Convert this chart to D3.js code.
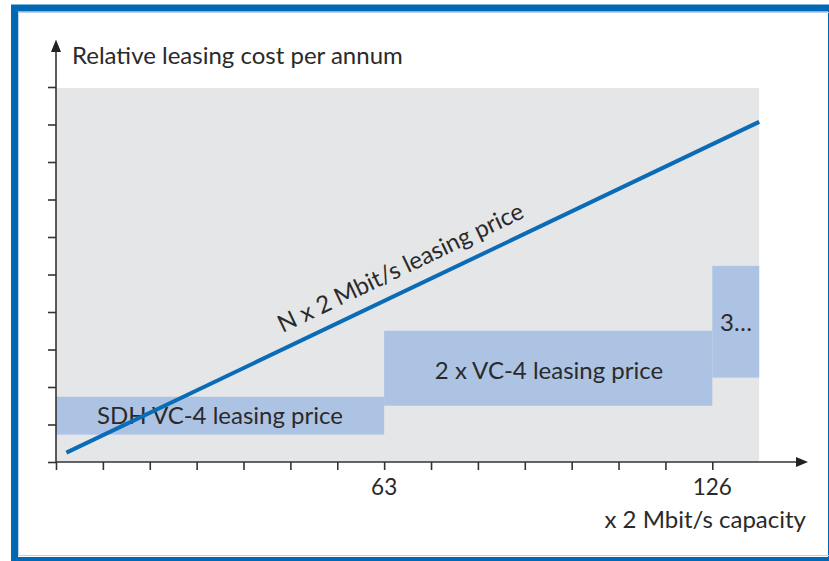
<!DOCTYPE html>
<html><head><meta charset="utf-8">
<script src="https://cdn.jsdelivr.net/npm/d3@7"></script>
<style>body{margin:0;background:#fff}svg{display:block}</style>
</head><body><svg id="c" width="829" height="561"></svg>
<script>
// ---- data ----
const xTicks = [0, 9, 18, 27, 36, 45, 54, 63, 72, 81, 90, 99, 108, 117, 126];
const xTickLabels = ["63", "126"];
const yTicks = [0, 1, 2, 3, 4, 5, 6, 7, 8, 9, 10];
const bandNames = ["SDH VC-4 leasing price", "2 x VC-4 leasing price", "3…"];
const bandStart = [0, 63, 126];
const bandEnd = [63, 126, 135];
const bandLow = [0.73, 1.50, 2.25];
const bandHigh = [1.74, 3.50, 5.23];
const lineX = [2, 135];
const lineY = [0.25, 9.07];
const lineLabel = "N x 2 Mbit/s leasing price";
const yTitle = "Relative leasing cost per annum";
const xTitle = "x 2 Mbit/s capacity";
const xMax = 135, yMax = 10;

// ---- drawing ----
const svg = d3.select("#c");
const FONT = "Lato, 'Open Sans', sans-serif";
const TXT = "#2a2a2a";
const FS = 24;
const x = d3.scaleLinear().domain([0, 126]).range([56, 712.3]);
const y = d3.scaleLinear().domain([0, 10]).range([462, 87]);

// frame
svg.append("rect").attr("x", 14.5).attr("y", 8).attr("width", 817).attr("height", 552.5)
  .attr("fill", "none").attr("stroke", "#0068b4").attr("stroke-width", 7);
svg.append("rect").attr("x", 18.5).attr("y", 12.5).attr("width", 820).attr("height", 543)
  .attr("fill", "none").attr("stroke", "#b9d3ee").attr("stroke-width", 1);

// gray plot area
svg.append("rect").attr("x", x(0)).attr("y", y(yMax) + 1)
  .attr("width", x(xMax) - x(0)).attr("height", y(0) - y(yMax) - 1)
  .attr("fill", "#e5e6e8");

// bands
const bands = bandNames.map((n, i) => ({n, s: bandStart[i], e: bandEnd[i], lo: bandLow[i], hi: bandHigh[i]}));
svg.selectAll("rect.band").data(bands).join("rect").attr("class", "band")
  .attr("x", d => x(d.s)).attr("width", d => x(d.e) - x(d.s))
  .attr("y", d => y(d.hi)).attr("height", d => y(d.lo) - y(d.hi))
  .attr("fill", "#adc3e4");

// band labels
const labelPos = [{cx: 220, b: 424}, {cx: 549, b: 379}, {cx: 736, b: 331}];
svg.selectAll("text.band").data(bands).join("text").attr("class", "band")
  .attr("x", (d, i) => labelPos[i].cx).attr("y", (d, i) => labelPos[i].b)
  .attr("text-anchor", "middle").attr("font-family", FONT).attr("font-size", FS)
  .attr("fill", TXT).text(d => d.n);

// line
const pts = lineX.map((v, i) => [x(v), y(lineY[i])]);
svg.append("path").attr("d", d3.line()(pts)).attr("fill", "none")
  .attr("stroke", "#0a6bb6").attr("stroke-width", 4);
const ang = Math.atan2(pts[1][1] - pts[0][1], pts[1][0] - pts[0][0]) * 180 / Math.PI;
svg.append("text").attr("transform", `translate(404,275) rotate(${ang})`)
  .attr("text-anchor", "middle").attr("font-family", FONT).attr("font-size", FS)
  .attr("fill", TXT).text(lineLabel);

// axes ticks
const ax = svg.append("g").attr("transform", `translate(0,${y(0)})`)
  .call(d3.axisBottom(x).tickValues(xTicks).tickSize(8).tickFormat(""));
ax.select(".domain").remove();
ax.selectAll("line").attr("stroke", "#333").attr("stroke-width", 1.6);
const ay = svg.append("g").attr("transform", `translate(${x(0)},0)`)
  .call(d3.axisLeft(y).tickValues(yTicks).tickSize(8).tickFormat(""));
ay.select(".domain").remove();
ay.selectAll("line").attr("stroke", "#333").attr("stroke-width", 1.6);

// axis lines with arrowheads
svg.append("line").attr("x1", x(0)).attr("x2", 798).attr("y1", y(0)).attr("y2", y(0))
  .attr("stroke", "#333").attr("stroke-width", 1.6);
svg.append("path").attr("d", `M808,${y(0)} L796,${y(0) - 5} L796,${y(0) + 5} Z`).attr("fill", "#222");
svg.append("line").attr("x1", x(0)).attr("x2", x(0)).attr("y1", y(0) + 0.8).attr("y2", 50)
  .attr("stroke", "#333").attr("stroke-width", 1.6);
svg.append("path").attr("d", `M${x(0)},39.5 L${x(0) - 5},52 L${x(0) + 5},52 Z`).attr("fill", "#222");

// tick labels
svg.selectAll("text.tl").data(xTickLabels).join("text").attr("class", "tl")
  .attr("x", d => x(+d)).attr("y", 495).attr("text-anchor", "middle")
  .attr("font-family", FONT).attr("font-size", 22.5).attr("fill", TXT).text(d => d);

// titles
svg.append("text").attr("x", 72).attr("y", 64).attr("font-family", FONT).attr("font-size", FS)
  .attr("fill", TXT).text(yTitle);
svg.append("text").attr("x", 806).attr("y", 528).attr("text-anchor", "end")
  .attr("font-family", FONT).attr("font-size", FS).attr("fill", TXT).text(xTitle);
</script></body></html>
